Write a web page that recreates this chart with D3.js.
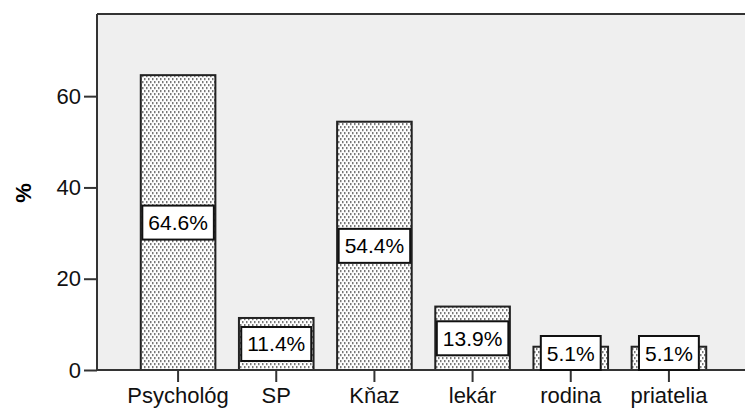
<!DOCTYPE html>
<html>
<head>
<meta charset="utf-8">
<script src="https://d3js.org/d3.v7.min.js"></script>
<style>
  body { margin: 0; background: #fff; }
  svg text { font-family: "Liberation Sans", Arial, sans-serif; }
</style>
</head>
<body>
<script>
// chart data
var categories = ["Psychológ", "SP", "Kňaz", "lekár", "rodina", "priatelia"];
var percents = [64.6, 11.4, 54.4, 13.9, 5.1, 5.1];
var yTicks = [0, 20, 40, 60];

var W = 745, H = 408;
var plotL = 97, plotT = 14, plotR = 745, plotB = 370;

var svg = d3.select("body").append("svg")
    .attr("width", W).attr("height", H);

// dotted fill used by the bars
var defs = svg.append("defs");
var pat = defs.append("pattern")
    .attr("id", "dots")
    .attr("patternUnits", "userSpaceOnUse")
    .attr("width", 4).attr("height", 6);
pat.append("rect").attr("width", 4).attr("height", 6).attr("fill", "#fff");
pat.append("rect").attr("x", 0).attr("y", 0).attr("width", 1.5).attr("height", 2.2).attr("fill", "#777");
pat.append("rect").attr("x", 2).attr("y", 3).attr("width", 1.5).attr("height", 2.2).attr("fill", "#777");

var x = d3.scaleBand().domain(categories).range([129, 718])
    .paddingInner(0.24).paddingOuter(0.12);
var y = d3.scaleLinear().domain([0, 78]).range([plotB, plotT]);

// plot background
svg.append("rect")
    .attr("x", plotL).attr("y", plotT)
    .attr("width", plotR - plotL).attr("height", plotB - plotT)
    .attr("fill", "#efefef");

// bars
svg.selectAll("rect.bar").data(percents).enter().append("rect")
    .attr("class", "bar")
    .attr("x", function(d, i){ return x(categories[i]); })
    .attr("y", function(d){ return y(d); })
    .attr("width", x.bandwidth())
    .attr("height", function(d){ return plotB - y(d); })
    .attr("fill", "url(#dots)")
    .attr("stroke", "#222")
    .attr("stroke-width", 2);

// frame: top
svg.append("line").attr("x1", plotL).attr("x2", plotR).attr("y1", plotT).attr("y2", plotT)
    .attr("stroke", "#333").attr("stroke-width", 2);

// y axis
var yAxis = svg.append("g")
    .attr("transform", "translate(" + plotL + ",0)")
    .call(d3.axisLeft(y).tickValues(yTicks).tickSize(13).tickPadding(3));
yAxis.select(".domain").attr("stroke", "#333").attr("stroke-width", 2)
    .attr("d", "M0," + plotT + "V" + plotB);
yAxis.selectAll(".tick line").attr("stroke", "#333").attr("stroke-width", 2);
yAxis.selectAll(".tick text").attr("font-size", 22).attr("fill", "#111")
    .attr("font-family", "Liberation Sans, Arial, sans-serif");

// x axis
var xAxis = svg.append("g")
    .attr("transform", "translate(0," + plotB + ")")
    .call(d3.axisBottom(x).tickSize(12).tickPadding(5));
xAxis.select(".domain").attr("stroke", "#333").attr("stroke-width", 2)
    .attr("d", "M" + plotL + ",0H" + plotR);
xAxis.selectAll(".tick line").attr("stroke", "#333").attr("stroke-width", 2);
xAxis.selectAll(".tick text").attr("font-size", 22).attr("fill", "#111")
    .attr("font-family", "Liberation Sans, Arial, sans-serif");

// y title
svg.append("text")
    .attr("transform", "translate(31,193) rotate(-90)")
    .attr("text-anchor", "middle")
    .attr("font-size", 22).attr("font-weight", "bold")
    .text("%");

// value labels in boxes
var boxH = 34;
var lab = svg.selectAll("g.lab").data(percents).enter().append("g").attr("class", "lab");
lab.each(function(d, i){
  var g = d3.select(this);
  var cx = x(categories[i]) + x.bandwidth() / 2;
  var cy = Math.min((y(d) + plotB) / 2, plotB - boxH / 2);
  var t = g.append("text")
      .attr("x", cx).attr("y", cy + 7.5)
      .attr("text-anchor", "middle")
      .attr("font-size", 21).attr("fill", "#000")
      .text(d.toFixed(1) + "%");
  var w = Math.min(t.node().getComputedTextLength() + 12, x.bandwidth());
  g.insert("rect", "text")
      .attr("x", cx - w / 2).attr("y", cy - boxH / 2)
      .attr("width", w).attr("height", boxH)
      .attr("fill", "#fff").attr("stroke", "#111").attr("stroke-width", 2);
});
</script>
</body>
</html>
